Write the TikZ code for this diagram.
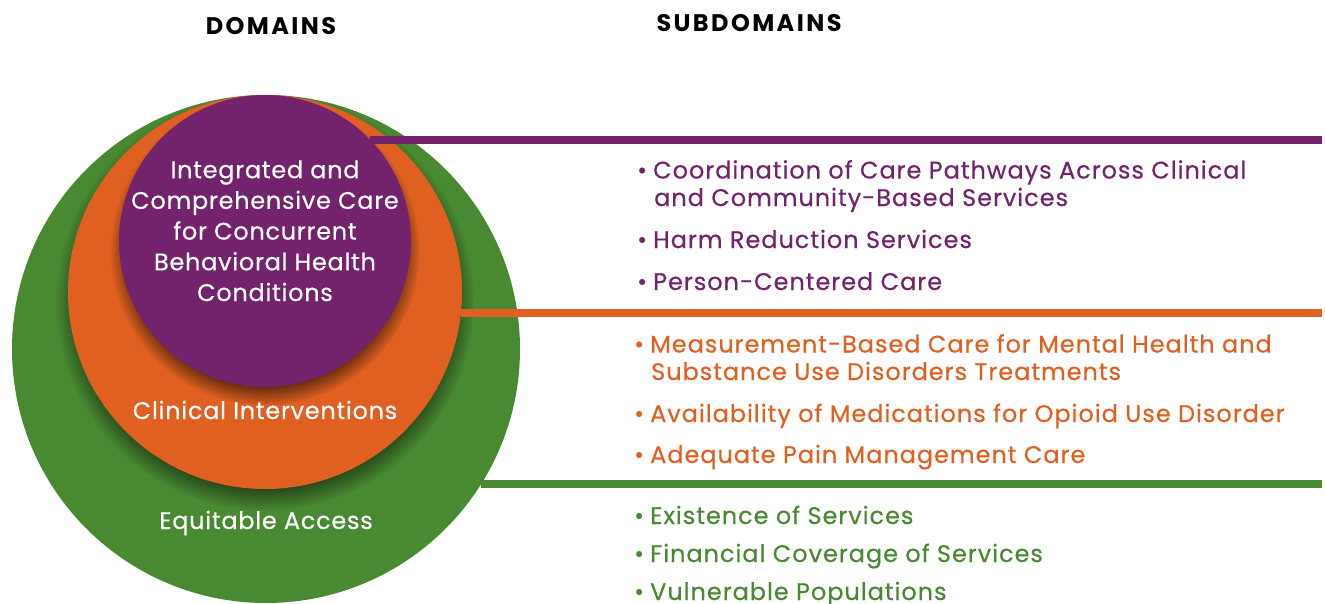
\documentclass[tikz,border=0pt]{standalone}
\usepackage{fontspec}
\setmainfont{Poppins}
\newfontfamily\headfont[LetterSpace=10]{Poppins}
\newfontfamily\ringfont[LetterSpace=3, FakeBold=0.4]{Poppins}
\newfontfamily\subfont[LetterSpace=4, FakeBold=0.4]{Poppins}
\usetikzlibrary{positioning,shadows,fadings}
\definecolor{domainpurple}{RGB}{115,34,108}
\definecolor{domainorange}{RGB}{223,96,33}
\definecolor{domaingreen}{RGB}{73,137,50}
\newcommand{\bul}{\makebox[16pt][l]{\textbullet}}
\newcommand{\nobul}{\makebox[17pt][l]{}}
% soft edge for the ring shadows
\pgfdeclareradialshading{fuzzyshade}{\pgfpointorigin}{color(0bp)=(pgftransparent!0); color(20bp)=(pgftransparent!0); color(25bp)=(pgftransparent!100); color(50bp)=(pgftransparent!100)}
\pgfdeclarefading{fuzzyring}{\pgfuseshading{fuzzyshade}}

\begin{document}
\begin{tikzpicture}[x=1pt, y=-1pt,
    ring/.style = {circle, inner sep=0pt, outer sep=0pt},
    ringshadow/.style = {general shadow={fill=black, path fading=fuzzyring, shadow xshift=0pt, shadow yshift=-9pt, shadow scale=1.06, opacity=.85}},
    headtext/.style = {anchor=base, font=\headfont\bfseries\fontsize{24}{28}\selectfont},
    domaintext/.style = {anchor=base, inner sep=0pt, text=white, align=center, font=\ringfont\fontsize{24}{30.7}\selectfont},
    subtext/.style = {anchor=base west, inner sep=0pt, align=left, font=\subfont\fontsize{24}{27.5}\selectfont},
    barline/.style = {line width=8pt}]
    \useasboundingbox (0,0) rectangle (1325,603);
    % Headings
    \node[headtext] (dom) at (271,34) {DOMAINS};
    \node[headtext] (subdom) at (749,31.5) {SUBDOMAINS};
    % Domains
    \node[ring, fill=domaingreen, minimum size=508pt] (access) at (266,349) {};
    \node[ring, fill=domainorange, minimum size=394pt, ringshadow] (clinical) at (265,292) {};
    \node[ring, fill=domainpurple, minimum size=292pt, ringshadow] (integrated) at (265,241) {};
    \node[domaintext] (integratedtxt) at (265,301) {Integrated and\\Comprehensive Care\\for Concurrent\\Behavioral Health\\Conditions};
    \node[domaintext] (clinicaltxt) at (265,419) {Clinical Interventions};
    \node[domaintext] (accesstxt) at (266,529) {Equitable Access};
    % Bars
    \coordinate (pend) at (1322,140);
    \coordinate (oend) at (1322,313);
    \coordinate (gend) at (1322,486);
    \draw[barline, domainpurple] (integrated.44) -- (integrated.44 -| pend);
    \draw[barline, domainorange] (clinical.-6.1) -- (clinical.-6.1 -| oend);
    \draw[barline, domaingreen] (access.-32.6) -- (access.-32.6 -| gend);
    % Subdomains
    \node[subtext, text=domainpurple] (p1) at (637,206) {\bul Coordination of Care Pathways Across Clinical\\\nobul and Community-Based Services};
    \node[subtext, text=domainpurple] (p2) at (637,248) {\bul Harm Reduction Services};
    \node[subtext, text=domainpurple] (p3) at (637,290) {\bul Person-Centered Care};
    \node[subtext, text=domainorange] (o1) at (634,380) {\bul Measurement-Based Care for Mental Health and\\\nobul Substance Use Disorders Treatments};
    \node[subtext, text=domainorange] (o2) at (634,422) {\bul Availability of Medications for Opioid Use Disorder};
    \node[subtext, text=domainorange] (o3) at (634,463) {\bul Adequate Pain Management Care};
    \node[subtext, text=domaingreen] (g1) at (634,524) {\bul Existence of Services};
    \node[subtext, text=domaingreen] (g2) at (634,562) {\bul Financial Coverage of Services};
    \node[subtext, text=domaingreen] (g3) at (634,600) {\bul Vulnerable Populations};
\end{tikzpicture}
\end{document}
